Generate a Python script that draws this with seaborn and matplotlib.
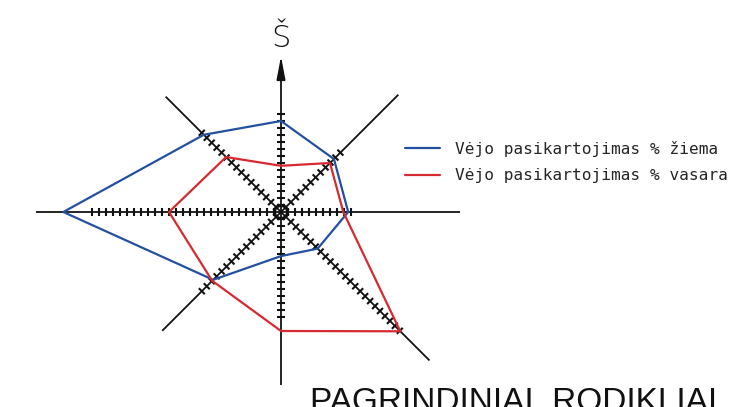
import numpy as np
import pandas as pd
import matplotlib
matplotlib.use("Agg")
import matplotlib.pyplot as plt
from matplotlib.collections import LineCollection
import seaborn as sns

# ---- data (tick units along each direction) ----
directions = ["Š", "ŠR", "R", "PR", "P", "PV", "V", "ŠV"]
angles_deg = [0, 45, 90, 135, 180, 225, 270, 315]  # clockwise from north
ziema = [13.0, 10.7, 9.6, 7.4, 6.3, 13.7, 31.1, 15.6]
vasara = [6.6, 9.9, 8.9, 24.1, 17.0, 13.9, 16.0, 11.1]
series_labels = ["Vėjo pasikartojimas % žiema", "Vėjo pasikartojimas % vasara"]

# decoration: number of scale ticks and axis length along each direction
tick_counts = [14, 12, 10, 24, 15, 16, 27, 16]
axis_lengths = [21.7, 23.7, 25.6, 30.0, 24.7, 24.0, 35.0, 23.3]

sns.set_theme(style="white")
plt.rcParams["font.family"] = ["DejaVu Sans"]

fig = plt.figure(figsize=(7.33, 4.07), dpi=100)
ax = fig.add_axes([0, 0, 1, 1])
PX = 7.0
cx, cy = 281, 212
ax.set_xlim(-cx / PX, (733 - cx) / PX)
ax.set_ylim(-(407 - cy) / PX, cy / PX)
ax.axis("off")

# ---- axes of the rose ----
th = np.deg2rad(angles_deg)
segs = []
for a, L in zip(th, axis_lengths):
    segs.append([(0, 0), (L * np.sin(a), L * np.cos(a))])
ax.add_collection(LineCollection(segs, colors="#111111", linewidths=1.3, zorder=1))

ticks = []
h = 0.6
for a, n in zip(th, tick_counts):
    ux, uy = np.sin(a), np.cos(a)
    px, py = -uy, ux
    for k in range(1, n + 1):
        x0, y0 = k * ux, k * uy
        ticks.append([(x0 - h * px, y0 - h * py), (x0 + h * px, y0 + h * py)])
ax.add_collection(LineCollection(ticks, colors="#111111", linewidths=1.5, zorder=1))

circ = plt.Circle((0, 0), 0.85, fill=False, color="#111111", lw=1.4, zorder=1)
ax.add_patch(circ)

# north arrow head
tip = axis_lengths[0]
ax.add_patch(plt.Polygon([(0, tip), (-0.55, tip - 2.9), (0.55, tip - 2.9)],
                         closed=True, color="#111111", zorder=2))

# ---- data polygons ----
rows = []
for lab, vals in zip(series_labels, [ziema, vasara]):
    for i in list(range(len(directions))) + [0]:
        rows.append({"serija": lab, "kryptis": directions[i], "ord": len(rows),
                     "x": vals[i] * np.sin(th[i]), "y": vals[i] * np.cos(th[i])})
df = pd.DataFrame(rows)
sns.lineplot(data=df, x="x", y="y", hue="serija", sort=False, estimator=None,
             palette=["#2450a0", "#d42a30"], linewidth=1.6, ax=ax, zorder=3)

handles, labels = ax.get_legend_handles_labels()
ax.legend(handles, labels, loc="upper left", bbox_to_anchor=(405 / 733, 1 - 141 / 407),
          bbox_transform=fig.transFigure, frameon=False, borderpad=0, borderaxespad=0,
          handlelength=2.15, handletextpad=0.95, labelspacing=0.7,
          prop={"family": "DejaVu Sans Mono", "size": 11.6})
ax.set_xlim(-cx / PX, (733 - cx) / PX)
ax.set_ylim(-(407 - cy) / PX, cy / PX)

# ---- texts ----
fig.text(281 / 733, 1 - 46.7 / 407, "Š", ha="center", va="baseline",
         fontsize=22, color="#111111", family="DejaVu Sans", fontweight="light")
fig.text(310 / 733, 1 - 387 / 407, "PAGRINDINIAI  RODIKLIAI", ha="left", va="top",
         fontsize=24, color="#111111", family="Liberation Sans")

fig.savefig("out.png", dpi=100, facecolor="white")
